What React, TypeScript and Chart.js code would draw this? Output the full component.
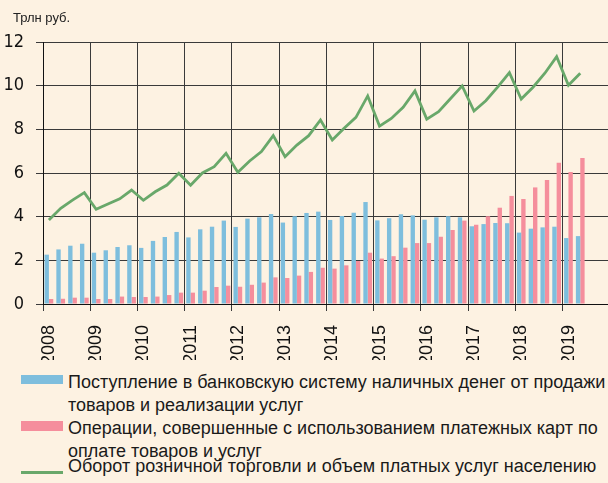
import React, { useEffect, useRef } from 'react';
import { Chart, registerables } from 'chart.js';

Chart.register(...registerables);

const yearLabels = ['2008', '2009', '2010', '2011', '2012', '2013', '2014', '2015', '2016', '2017', '2018', '2019'];

// Quarterly values, trillion rubles, 2008 Q1 .. 2019 Q2
const cashIncome = [
  2.26, 2.5, 2.67, 2.76,
  2.35, 2.46, 2.61, 2.69,
  2.57, 2.89, 3.07, 3.3,
  3.05, 3.42, 3.54, 3.82,
  3.53, 3.91, 3.97, 4.12,
  3.73, 4.02, 4.17, 4.23,
  3.85, 4.03, 4.18, 4.67,
  3.83, 3.93, 4.11, 4.06,
  3.86, 3.97, 4.02, 3.97,
  3.56, 3.66, 3.71, 3.7,
  3.27, 3.45, 3.51, 3.54,
  3.02, 3.11,
];

const cardPayments = [
  0.23, 0.24, 0.29, 0.29,
  0.23, 0.23, 0.34, 0.32,
  0.32, 0.34, 0.41, 0.52,
  0.52, 0.61, 0.78, 0.84,
  0.79, 0.88, 0.98, 1.22,
  1.19, 1.3, 1.47, 1.66,
  1.62, 1.77, 1.97, 2.35,
  2.08, 2.19, 2.58, 2.79,
  2.79, 3.08, 3.39, 3.82,
  3.63, 4.02, 4.41, 4.95,
  4.81, 5.34, 5.68, 6.47,
  6.05, 6.69,
];

const retailTurnover = [
  3.85, 4.38, 4.76, 5.1,
  4.34, 4.58, 4.82, 5.22,
  4.75, 5.14, 5.45, 5.99,
  5.44, 6.0, 6.29, 6.9,
  6.03, 6.55, 6.98, 7.71,
  6.75, 7.28, 7.71, 8.43,
  7.51, 8.05, 8.55, 9.53,
  8.15, 8.5, 9.01, 9.76,
  8.47, 8.81, 9.4, 9.99,
  8.84, 9.31, 9.93, 10.6,
  9.39, 9.93, 10.57, 11.33,
  10.02, 10.57,
];

const unitLabel = 'Трлн руб.';
const legendLabels = [
  'Поступление в банковскую систему наличных денег от продажи товаров и реализации услуг',
  'Операции, совершенные с использованием платежных карт по оплате товаров и услуг',
  'Оборот розничной торговли и объем платных услуг населению',
];

const BG = '#FDF2E2';
const BLUE = '#7EBEDD';
const PINK = '#F58E9C';
const GREEN = '#69A86A';

const toPoints = (arr: number[]) => arr.map((v, i) => ({ x: i + 0.5, y: v }));

export default function App() {
  const ref = useRef<HTMLCanvasElement | null>(null);

  useEffect(() => {
    document.body.style.margin = '0';
    const canvas = ref.current;
    if (!canvas) return;
    const chart = new Chart(canvas, {
      type: 'bar',
      data: {
        datasets: [
          {
            type: 'line',
            label: legendLabels[2],
            data: toPoints(retailTurnover),
            borderColor: GREEN,
            borderWidth: 2.8,
            pointRadius: 0,
            tension: 0,
            order: 0,
          } as any,
          {
            label: legendLabels[0],
            data: toPoints(cashIncome),
            backgroundColor: BLUE,
            categoryPercentage: 0.74,
            barPercentage: 1,
            order: 1,
          },
          {
            label: legendLabels[1],
            data: toPoints(cardPayments),
            backgroundColor: PINK,
            categoryPercentage: 0.74,
            barPercentage: 1,
            order: 2,
          },
        ],
      },
      options: {
        responsive: false,
        animation: false,
        layout: { padding: { top: 42, left: 0, right: 0, bottom: 0 } },
        plugins: { legend: { display: false }, tooltip: { enabled: false } },
        scales: {
          x: {
            type: 'linear',
            min: 0,
            max: 47.85,
            offset: false,
            grid: { color: '#3a3a3a', lineWidth: 1, offset: false, tickLength: 7, drawTicks: true },
            border: { color: '#111', width: 1 },
            ticks: {
              stepSize: 4,
              includeBounds: false,
              autoSkip: false,
              maxRotation: 90,
              minRotation: 90,
              labelOffset: 6,
              padding: 14,
              color: '#111',
              font: { family: '"Liberation Sans", Arial, sans-serif', size: 18 },
              callback: (v: any) => yearLabels[Math.round(Number(v) / 4)] ?? '',
            },
            afterFit: (s: any) => { s.height = 56; },
          },
          y: {
            min: 0,
            max: 12,
            grid: { color: '#3a3a3a', lineWidth: 1, tickLength: 7, drawTicks: true },
            border: { color: '#111', width: 1 },
            ticks: {
              stepSize: 2,
              padding: 12,
              color: '#111',
              font: { family: '"Liberation Sans Narrow", "DejaVu Sans Condensed", sans-serif', size: 18 },
            },
            afterFit: (s: any) => { s.width = 43; },
          },
        },
      },
    });
    return () => chart.destroy();
  }, []);

  const textStyle: React.CSSProperties = {
    position: 'absolute',
    left: 68,
    width: 540,
    fontFamily: '"Liberation Sans", Arial, sans-serif',
    fontSize: 18,
    lineHeight: '23px',
    color: '#1a1a1a',
  };

  return (
    <div style={{ position: 'relative', width: 608, height: 483, background: BG, overflow: 'hidden' }}>
      <canvas ref={ref} width={608} height={360} style={{ position: 'absolute', left: 0, top: 0, width: 608, height: 360 }} />
      <div style={{ position: 'absolute', left: 13, top: 10, fontFamily: '"Liberation Sans", Arial, sans-serif', fontSize: 13, color: '#222' }}>{unitLabel}</div>
      <div style={{ position: 'absolute', left: 21, top: 375, width: 42, height: 9, background: BLUE }} />
      <div style={{ ...textStyle, top: 371 }}>{legendLabels[0]}</div>
      <div style={{ position: 'absolute', left: 21, top: 421, width: 42, height: 10, background: PINK }} />
      <div style={{ ...textStyle, top: 417 }}>{legendLabels[1]}</div>
      <div style={{ position: 'absolute', left: 21, top: 471, width: 42, height: 2.5, background: GREEN }} />
      <div style={{ ...textStyle, top: 455 }}>{legendLabels[2]}</div>
    </div>
  );
}
